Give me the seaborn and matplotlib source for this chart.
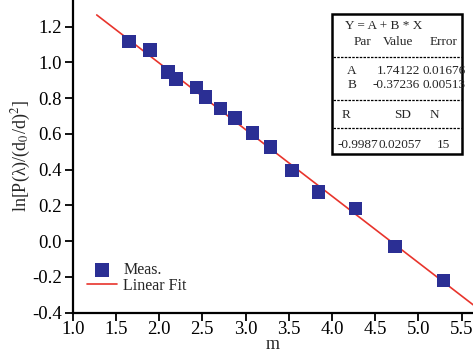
import numpy as np
import pandas as pd
import seaborn as sns
import matplotlib.pyplot as plt
from matplotlib.patches import Rectangle
from matplotlib.lines import Line2D

m_vals = [1.653, 1.895, 2.106, 2.196, 2.435, 2.539, 2.713, 2.878, 3.079, 3.289,
          3.540, 3.845, 4.275, 4.730, 5.290]
ln_vals = [1.116, 1.070, 0.945, 0.908, 0.860, 0.806, 0.742, 0.689, 0.604, 0.525,
           0.395, 0.275, 0.183, -0.031, -0.221]

# linear fit parameters (from the table)
fit_A = 1.74122
fit_B = -0.37236
fit_range = [1.278, 5.7]

x_ticks = [1.0, 1.5, 2.0, 2.5, 3.0, 3.5, 4.0, 4.5, 5.0, 5.5]
y_ticks = [-0.4, -0.2, 0.0, 0.2, 0.4, 0.6, 0.8, 1.0, 1.2]

sns.set_style('ticks')
plt.rcParams['font.family'] = ['Liberation Serif', 'DejaVu Serif']
plt.rcParams['mathtext.fontset'] = 'stix'
plt.rcParams['axes.unicode_minus'] = False

df = pd.DataFrame({'m': m_vals, 'y': ln_vals})
fit_x = np.array(fit_range)
fit_df = pd.DataFrame({'m': fit_x, 'y': fit_A + fit_B * fit_x})

W, H = 473, 356
fig = plt.figure(figsize=(W / 100, H / 100), dpi=100)
ax_l, ax_b = 72.7, 312.5
ax = fig.add_axes([ax_l / W, 1 - ax_b / H, 1 - ax_l / W, ax_b / H])

sns.lineplot(data=fit_df, x='m', y='y', ax=ax, color='#e8342c', lw=1.2,
             label='Linear Fit', zorder=2)
sns.scatterplot(data=df, x='m', y='y', ax=ax, marker='s', s=95, color='#2b2f94',
                edgecolor='none', label='Meas.', zorder=3)

ax.set_xlim(1.0, 1.0 + (W - ax_l) / 86.4)
ax.set_ylim(-0.4, 1.2 + 26.7 / 179.2)
ax.set_xticks(x_ticks)
ax.set_yticks(y_ticks)
ax.set_xticklabels([f'{v:.1f}' for v in x_ticks])
ax.set_yticklabels([f'{v:.1f}' for v in y_ticks])
ax.tick_params(direction='out', length=6, width=1.3, labelsize=13.5, colors='black')
ax.tick_params(axis='x', pad=0)
ax.tick_params(axis='y', pad=2)
for s in ['top', 'right']:
    ax.spines[s].set_visible(False)
for s in ['left', 'bottom']:
    ax.spines[s].set_linewidth(1.6)
    ax.spines[s].set_color('black')

ax.set_xlabel('m', fontsize=13, labelpad=-1.5)
ax.set_ylabel('ln[P(λ)/(d$_0$/d)$^2$]', fontsize=13, labelpad=-1)

# legend: square marker first, then the red line
h, l = ax.get_legend_handles_labels()
order = [l.index('Meas.'), l.index('Linear Fit')]
ax.legend([h[i] for i in order], [l[i] for i in order], loc='upper left',
          bbox_to_anchor=(86.7 / W, 1 - 262 / H), bbox_transform=fig.transFigure,
          frameon=False, fontsize=11.5, handlelength=1.9, handletextpad=0.4,
          borderpad=0, borderaxespad=0, labelspacing=0.0, markerscale=1.0)

# fit result table
aw, ah = W - ax_l, ax_b


def P(px, py):
    return ((px - ax_l) / aw, 1 - py / ah)


x0, y0 = P(332, 154)
x1, y1 = P(462, 14)
box = Rectangle((x0, y0), x1 - x0, y1 - y0, transform=ax.transAxes, fill=True,
                facecolor='white', edgecolor='black', lw=1.8, zorder=5)
ax.add_patch(box)
for py in [57, 100, 128]:
    a, b = P(333, py)
    c, _ = P(461, py)
    ax.add_line(Line2D([a, c], [b, b], transform=ax.transAxes, color='black',
                       lw=0.9, ls=(0, (2, 1)), zorder=6))

cells = [
    ('Y = A + B * X', 345, 26, 'left'),
    ('Par', 362, 42, 'center'), ('Value', 398, 42, 'center'), ('Error', 430, 42, 'left'),
    ('A', 352, 71, 'center'), ('1.74122', 420, 71, 'right'), ('0.01676', 422, 71, 'left'),
    ('B', 352, 85, 'center'), ('-0.37236', 420, 85, 'right'), ('0.00513', 422, 85, 'left'),
    ('R', 342, 115, 'left'), ('SD', 403, 115, 'center'), ('N', 434, 115, 'center'),
    ('-0.9987', 338, 145, 'left'), ('0.02057', 378, 145, 'left'), ('15', 443, 145, 'center'),
]
for txt, px, py, ha in cells:
    tx, ty = P(px, py)
    t = ax.text(tx, ty, txt, transform=ax.transAxes, ha=ha, va='center',
                fontsize=9.5, zorder=7)
    t.set_clip_path(box)

fig.savefig('out.png', dpi=100)
